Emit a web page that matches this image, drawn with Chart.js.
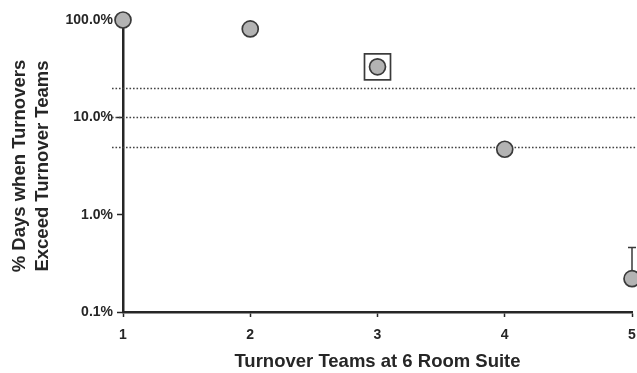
<!DOCTYPE html>
<html>
<head>
<meta charset="utf-8">
<script src="https://cdn.jsdelivr.net/npm/chart.js@4.4.1/dist/chart.umd.min.js"></script>
<style>
  html, body { margin: 0; padding: 0; background: #fff; }
  #wrap { width: 637px; height: 373px; }
</style>
</head>
<body>
<div id="wrap"><canvas id="chart" width="637" height="373"></canvas></div>
<script>
// turnover teams vs. % of days when turnovers exceed the team count
const teams = [1, 2, 3, 4, 5];
const pctExceed = [100, 81, 33, 4.7, 0.22];
const errUpper = [null, null, null, null, 0.46];
const refLines = [20, 10, 5];
const yTicks = [0.1, 1, 10, 100];
const xTicks = [1, 2, 3, 4, 5];
const boxedPoints = [2];

const ink = '#262626';
const tickFont = { family: 'Liberation Sans, Arial, sans-serif', size: 14, weight: 'bold' };
const titleFont = { family: 'Liberation Sans, Arial, sans-serif', size: 18.5, weight: 'bold' };

// dotted threshold lines, they start a little left of the y axis
const refLinePlugin = {
  id: 'refLines',
  beforeDatasetsDraw(chart) {
    const { ctx, chartArea, scales: { y } } = chart;
    ctx.save();
    ctx.strokeStyle = '#444';
    ctx.lineWidth = 1.6;
    ctx.setLineDash([1.6, 1.9]);
    refLines.forEach(v => {
      const py = Math.round(y.getPixelForValue(v)) + 0.5;
      ctx.beginPath();
      ctx.moveTo(chartArea.left - 11, py);
      ctx.lineTo(chart.width, py);
      ctx.stroke();
    });
    ctx.restore();
  }
};

// upper error whisker with a cap
const errorBarPlugin = {
  id: 'errorBars',
  beforeDatasetsDraw(chart) {
    const { ctx, scales: { y } } = chart;
    const meta = chart.getDatasetMeta(0);
    ctx.save();
    ctx.strokeStyle = '#3a3a3a';
    ctx.lineWidth = 1.5;
    errUpper.forEach((hi, i) => {
      if (hi == null) return;
      const pt = meta.data[i];
      const top = y.getPixelForValue(hi);
      ctx.beginPath();
      ctx.moveTo(pt.x, pt.y);
      ctx.lineTo(pt.x, top);
      ctx.moveTo(pt.x - 4, top);
      ctx.lineTo(pt.x + 4, top);
      ctx.stroke();
    });
    ctx.restore();
  }
};

// square frame around the highlighted point
const boxPlugin = {
  id: 'pointBox',
  afterDatasetsDraw(chart) {
    const { ctx } = chart;
    const meta = chart.getDatasetMeta(0);
    ctx.save();
    ctx.strokeStyle = '#3a3a3a';
    ctx.lineWidth = 1.7;
    boxedPoints.forEach(i => {
      const pt = meta.data[i];
      ctx.strokeRect(pt.x - 13, pt.y - 13, 26, 26);
    });
    ctx.restore();
  }
};

new Chart(document.getElementById('chart'), {
  type: 'scatter',
  data: {
    datasets: [{
      data: teams.map((t, i) => ({ x: t, y: pctExceed[i] })),
      pointRadius: 8,
      pointBackgroundColor: '#b3b3b3',
      pointBorderColor: '#3a3a3a',
      pointBorderWidth: 1.7,
      clip: false
    }]
  },
  options: {
    responsive: false,
    animation: false,
    devicePixelRatio: 1,
    layout: { autoPadding: false, padding: { top: 20, right: 5, left: 0, bottom: 0 } },
    plugins: { legend: { display: false }, tooltip: { enabled: false } },
    scales: {
      x: {
        type: 'linear',
        min: 1,
        max: 5,
        afterFit(s) { s.height = 61; s.paddingLeft = 0; s.paddingRight = 0; },
        afterBuildTicks(s) { s.ticks = xTicks.map(v => ({ value: v })); },
        grid: { drawOnChartArea: false, drawTicks: true, tickLength: 5, tickWidth: 1.5, tickColor: ink },
        border: { display: true, width: 2.5, color: ink },
        ticks: { color: ink, font: tickFont, padding: 10 },
        title: {
          display: true,
          text: 'Turnover Teams at 6 Room Suite',
          color: ink,
          font: titleFont,
          padding: { top: 0, bottom: 0 }
        }
      },
      y: {
        type: 'logarithmic',
        min: 0.1,
        max: 100,
        afterFit(s) { s.width = 123; },
        afterBuildTicks(s) { s.ticks = yTicks.map(v => ({ value: v })); },
        grid: { drawOnChartArea: false, drawTicks: true, tickLength: 6, tickWidth: 1.5, tickColor: ink },
        border: { display: true, width: 2.5, color: ink },
        ticks: {
          color: ink,
          font: tickFont,
          padding: 4,
          callback: v => v.toFixed(1) + '%'
        },
        title: {
          display: true,
          text: ['% Days when Turnovers', 'Exceed Turnover Teams'],
          color: ink,
          font: { ...titleFont, lineHeight: 1.25 },
          padding: { top: 8, bottom: 0 }
        }
      }
    }
  },
  plugins: [refLinePlugin, errorBarPlugin, boxPlugin]
});
</script>
</body>
</html>
